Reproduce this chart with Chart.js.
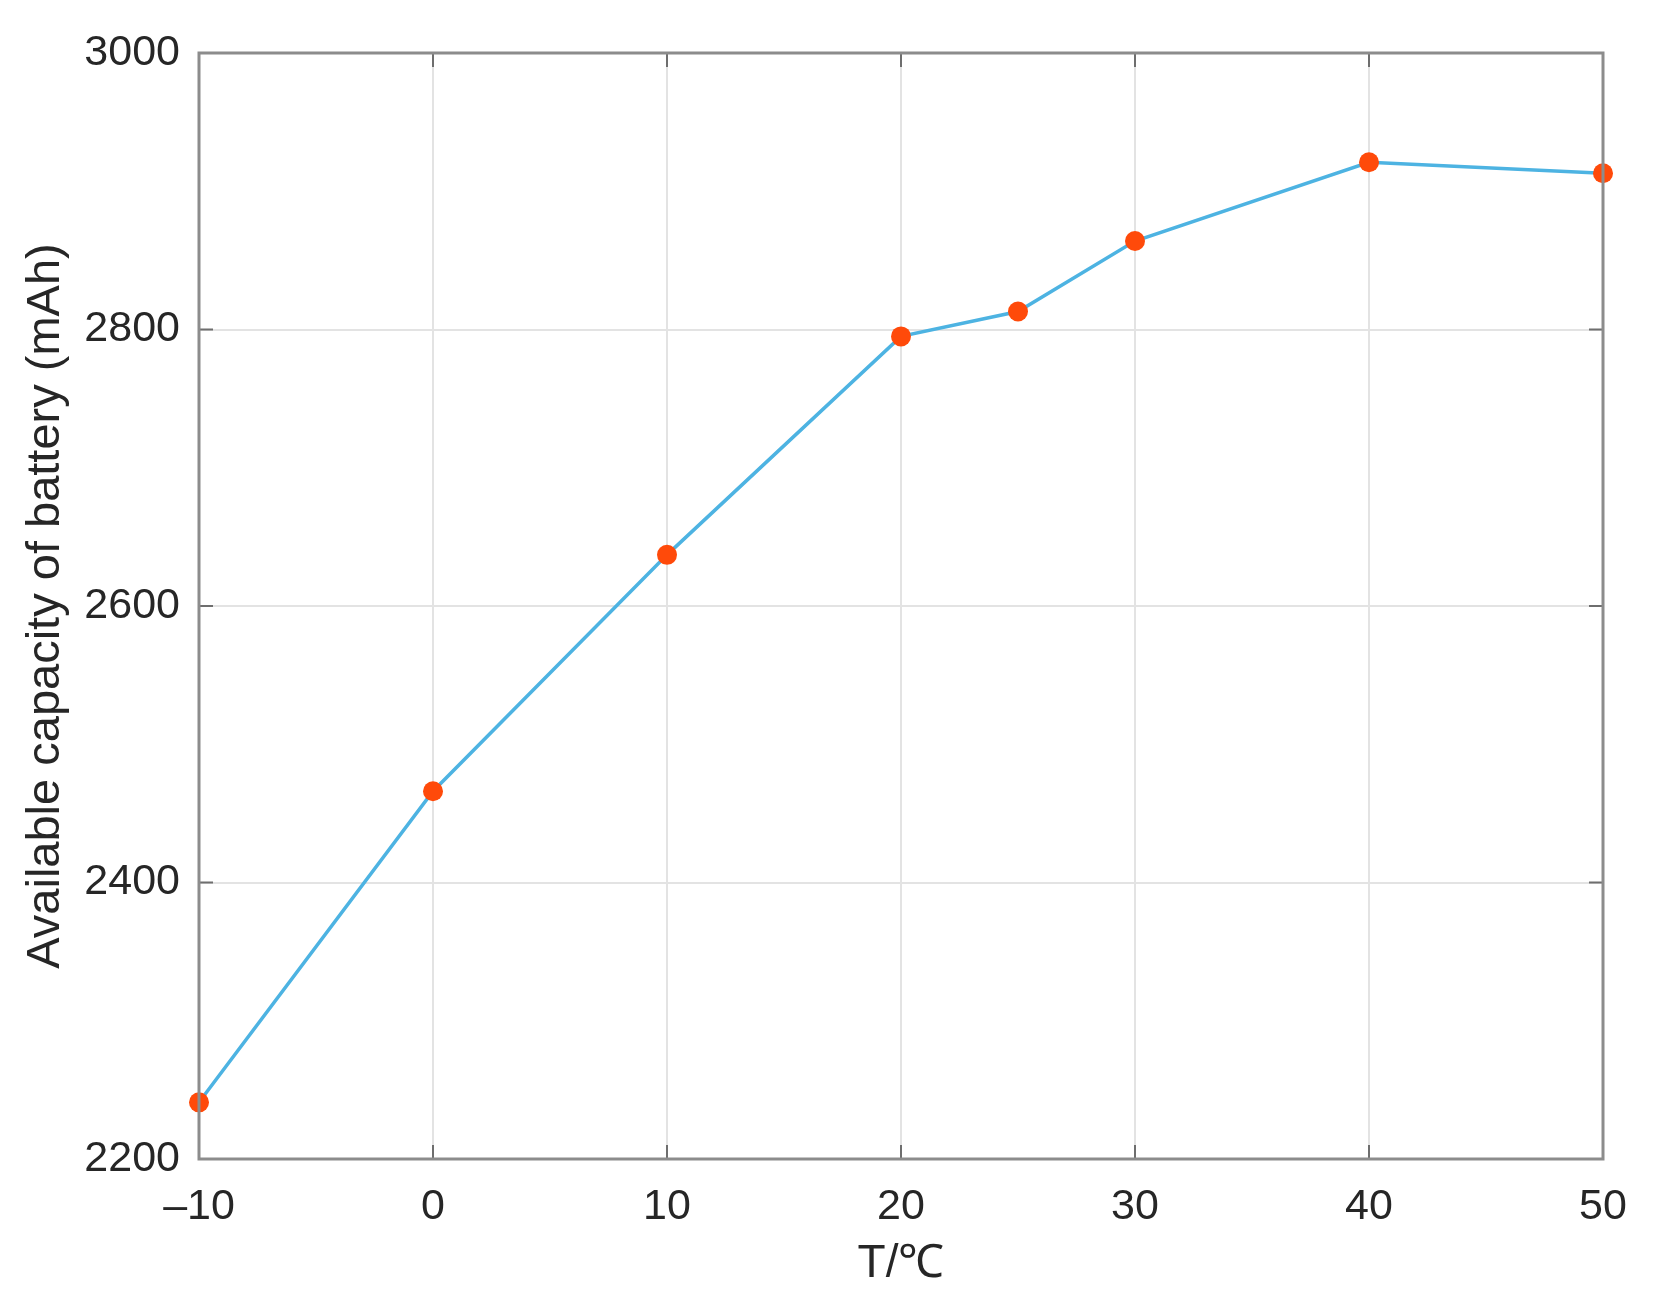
<!DOCTYPE html>
<html>
<head>
<meta charset="utf-8">
<script src="https://cdn.jsdelivr.net/npm/chart.js@4"></script>
<style>
  html, body { margin: 0; padding: 0; background: #fff; }
  #wrap { width: 1662px; height: 1312px; }
</style>
</head>
<body>
<div id="wrap"><canvas id="capChart"></canvas></div>
<script>
// data
const temps = [-10, 0, 10, 20, 25, 30, 40, 50];
const capacity = [2241, 2466, 2637, 2795, 2813, 2864, 2921, 2913];
const xTicks = [-10, 0, 10, 20, 30, 40, 50];
const yTicks = [2200, 2400, 2600, 2800, 3000];

const FONT = '"Liberation Sans", Arial, Helvetica, sans-serif';
const AXIS_GRAY = '#8c8c8c';

// MATLAB style box with inward ticks on all four sides
const boxPlugin = {
    id: 'box',
    afterDraw(chart) {
        const { ctx, chartArea: a, scales: { x, y } } = chart;
        const len = 14;
        ctx.save();
        ctx.strokeStyle = '#6e6e6e';
        ctx.lineWidth = 2;
        ctx.beginPath();
        xTicks.forEach(v => {
            const px = x.getPixelForValue(v);
            ctx.moveTo(px, a.bottom); ctx.lineTo(px, a.bottom - len);
            ctx.moveTo(px, a.top); ctx.lineTo(px, a.top + len);
        });
        yTicks.forEach(v => {
            const py = y.getPixelForValue(v);
            ctx.moveTo(a.left, py); ctx.lineTo(a.left + len, py);
            ctx.moveTo(a.right, py); ctx.lineTo(a.right - len, py);
        });
        ctx.stroke();
        ctx.strokeStyle = AXIS_GRAY;
        ctx.lineWidth = 3;
        ctx.strokeRect(a.left, a.top, a.right - a.left, a.bottom - a.top);
        ctx.restore();
    }
};

const ctx = document.getElementById('capChart').getContext('2d');
new Chart(ctx, {
    type: 'line',
    data: {
        datasets: [{
            data: temps.map((t, i) => ({ x: t, y: capacity[i] })),
            borderColor: '#4db3e2',
            borderWidth: 3.5,
            backgroundColor: '#ff4a0a',
            pointBackgroundColor: '#ff4a0a',
            pointBorderWidth: 0,
            pointRadius: 10,
            tension: 0,
            clip: false
        }]
    },
    options: {
        responsive: true,
        maintainAspectRatio: false,
        animation: false,
        layout: { padding: { top: 53, right: 59, left: 8, bottom: 20 } },
        plugins: {
            legend: { display: false },
            tooltip: { enabled: false }
        },
        scales: {
            x: {
                type: 'linear',
                min: -10,
                max: 50,
                afterBuildTicks: s => { s.ticks = xTicks.map(v => ({ value: v })); },
                afterFit: s => { s.height = 133; },
                grid: { color: '#e3e3e3', lineWidth: 2, drawTicks: false },
                border: { display: false },
                ticks: {
                    padding: 22,
                    color: '#262626',
                    font: { family: FONT, size: 43 },
                    callback: v => (v < 0 ? '\u2013' + Math.abs(v) : String(v))
                },
                title: {
                    display: true,
                    text: 'T/\u2103',
                    color: '#262626',
                    font: { family: FONT, size: 46 },
                    padding: { top: 0, bottom: 0 }
                }
            },
            y: {
                min: 2200,
                max: 3000,
                afterBuildTicks: s => { s.ticks = yTicks.map(v => ({ value: v })); },
                afterFit: s => { s.width = 191; },
                grid: { color: '#e3e3e3', lineWidth: 2, drawTicks: false },
                border: { display: false },
                ticks: {
                    padding: 19,
                    color: '#262626',
                    font: { family: FONT, size: 43 },
                    callback: v => String(v)
                },
                title: {
                    display: true,
                    text: 'Available capacity of battery (mAh)',
                    color: '#262626',
                    font: { family: FONT, size: 47 },
                    padding: { top: 10, bottom: 0 }
                }
            }
        }
    },
    plugins: [boxPlugin]
});
</script>
</body>
</html>
